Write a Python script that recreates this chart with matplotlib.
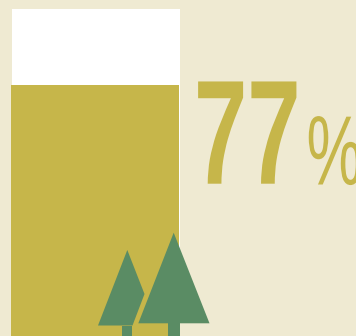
import matplotlib
matplotlib.use('Agg')
import matplotlib.pyplot as plt
import matplotlib.patheffects as pe
from matplotlib.patches import Polygon, Rectangle
from matplotlib.transforms import Affine2D

W, H = 356, 336
GOLD = '#c6b64a'
CREAM = '#efead2'
GREEN = '#5a8c64'

percent = 77
full = 100
label_value = '77'
label_unit = '%'

# (left, apex x, right, apex y, base y, trunk left, trunk right)
big_tree = (138.3, 173.7, 209.5, 232.7, 323.3, 168, 179.7)
small_tree_outline = [(98, 325.5), (127.3, 250), (144.5, 294), (132.5, 325.5)]
small_trunk = (122.3, 132.3, 325.5)


class NarrowText(pe.AbstractPathEffect):
    # squeeze glyphs sideways, keeps the text object a normal text
    def __init__(self, sx):
        super().__init__()
        self.sx = sx

    def draw_path(self, renderer, gc, tpath, affine, rgbFace=None):
        renderer.draw_path(gc, tpath, Affine2D().scale(self.sx, 1) + affine, rgbFace)


fig = plt.figure(figsize=(W / 100, H / 100), dpi=100, facecolor=CREAM)

# the gauge runs past the lower edge: 100 units from y=9px down to y=339px
ax = fig.add_axes([12 / W, (H - 339) / H, 168 / W, 330 / H])
ax.set_xlim(0, 1)
ax.set_ylim(0, full)
ax.axis('off')
ax.bar(0.5, full, width=1, color='white', linewidth=0, clip_on=False)
shift = 1 / 168
ax.bar(0.5 - shift, percent, width=1, color=GOLD, linewidth=0, clip_on=False)

# overlay in pixel coordinates for trees and number
top = fig.add_axes([0, 0, 1, 1], facecolor='none')
top.set_xlim(0, W)
top.set_ylim(H, 0)
top.axis('off')

l, a, r, ay, by, tl, tr = big_tree
top.add_patch(Polygon(small_tree_outline, closed=True, color=GREEN, lw=0))
top.add_patch(Rectangle((small_trunk[0], small_trunk[2]), small_trunk[1] - small_trunk[0], H - small_trunk[2], color=GREEN, lw=0))
top.add_patch(Polygon([(l, by), (a, ay), (r, by)], closed=True, color=GREEN, lw=0))
top.add_patch(Rectangle((tl, by), tr - tl, H - by, color=GREEN, lw=0))

top.text(194, 183.7, label_value, color=GOLD, fontsize=107, family='Liberation Sans',
         weight='bold', ha='left', va='baseline', path_effects=[NarrowText(0.645)])
top.text(306.5, 184.5, label_unit, color=GOLD, fontsize=71, family='Liberation Sans',
         ha='left', va='baseline', path_effects=[NarrowText(0.64)])

fig.savefig('out.png', dpi=100, facecolor=CREAM)
